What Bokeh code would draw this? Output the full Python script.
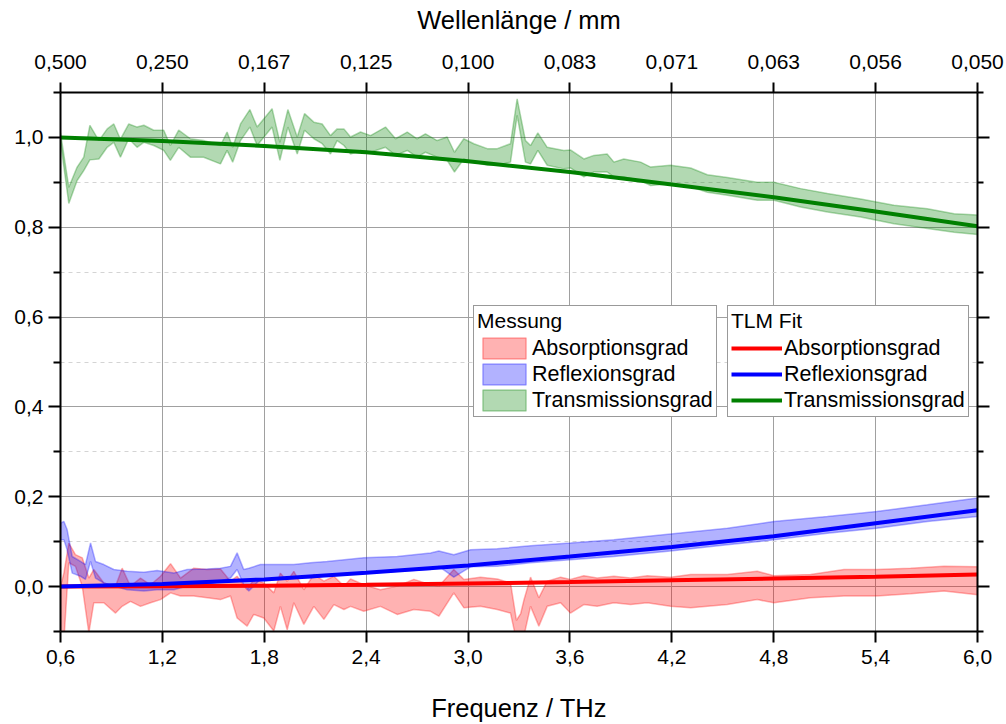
from bokeh.plotting import figure
from bokeh.models import (LinearAxis, FixedTicker, Legend, LegendItem, Range1d,
                          CustomJSTickFormatter)
from bokeh.embed import file_html
from bokeh.resources import INLINE

# ---------------- data ----------------
x_ticks = [0.6, 1.2, 1.8, 2.4, 3.0, 3.6, 4.2, 4.8, 5.4, 6.0]
x_labels = ["0,6", "1,2", "1,8", "2,4", "3,0", "3,6", "4,2", "4,8", "5,4", "6,0"]
top_labels = ["0,500", "0,250", "0,167", "0,125", "0,100", "0,083", "0,071", "0,063", "0,056", "0,050"]
y_ticks = [0.0, 0.2, 0.4, 0.6, 0.8, 1.0]
y_labels = ["0,0", "0,2", "0,4", "0,6", "0,8", "1,0"]
y_minor = [-0.1, 0.1, 0.3, 0.5, 0.7, 0.9, 1.1]

# Transmission (measurement band)
f_T = [0.600, 0.649, 0.698, 0.737, 0.773, 0.826, 0.875, 0.914, 0.953, 1.002, 1.051, 1.091, 1.149,
       1.208, 1.247, 1.296, 1.365, 1.443, 1.542, 1.581, 1.614, 1.660, 1.715, 1.758, 1.846, 1.892,
       1.939, 1.994, 2.037, 2.092, 2.141, 2.190, 2.229, 2.269, 2.308, 2.367, 2.426, 2.514, 2.573,
       2.642, 2.700, 2.749, 2.818, 2.877, 2.920, 2.975, 3.034, 3.113, 3.172, 3.250, 3.289, 3.338,
       3.368, 3.411, 3.466, 3.564, 3.603, 3.682, 3.741, 3.819, 3.859, 3.917, 4.016, 4.075, 4.192,
       4.311, 4.409, 4.527, 4.703, 4.801, 4.958, 5.116, 5.312, 5.508, 5.705, 5.862, 6.000]
T_hi = [1.010, 0.889, 0.934, 0.956, 1.027, 0.993, 1.019, 1.030, 0.996, 1.030, 1.023, 1.027, 1.016,
        1.016, 0.982, 1.016, 0.997, 0.993, 0.982, 1.012, 0.978, 1.030, 1.062, 1.023, 1.064, 0.989,
        1.062, 1.001, 1.053, 1.034, 1.030, 1.004, 1.019, 1.019, 1.001, 1.012, 1.004, 1.023, 0.997,
        1.012, 0.997, 1.008, 0.993, 1.001, 0.967, 0.997, 0.986, 0.975, 0.975, 0.986, 1.086, 0.993,
        0.982, 1.010, 0.978, 0.971, 0.972, 0.952, 0.960, 0.963, 0.945, 0.952, 0.945, 0.934, 0.938,
        0.932, 0.917, 0.911, 0.900, 0.900, 0.886, 0.875, 0.863, 0.849, 0.841, 0.830, 0.827]
T_lo = [0.990, 0.853, 0.904, 0.926, 0.950, 0.952, 0.978, 0.989, 0.956, 0.997, 0.978, 0.989, 0.982,
        0.971, 0.949, 0.978, 0.956, 0.956, 0.941, 0.971, 0.945, 0.993, 1.023, 0.982, 1.023, 0.949,
        1.023, 0.963, 1.016, 0.997, 0.986, 0.963, 0.993, 0.982, 0.963, 0.971, 0.967, 0.978, 0.960,
        0.971, 0.956, 0.967, 0.956, 0.949, 0.923, 0.952, 0.945, 0.938, 0.938, 0.945, 1.049, 0.945,
        0.941, 0.971, 0.938, 0.930, 0.932, 0.912, 0.923, 0.923, 0.912, 0.912, 0.904, 0.893, 0.897,
        0.890, 0.878, 0.871, 0.860, 0.860, 0.845, 0.834, 0.823, 0.808, 0.797, 0.789, 0.784]

# Reflexion (measurement band)
f_R = [0.600, 0.620, 0.639, 0.669, 0.718, 0.747, 0.777, 0.806, 0.855, 0.914, 0.993, 1.091, 1.169,
       1.267, 1.346, 1.464, 1.542, 1.601, 1.640, 1.679, 1.709, 1.777, 1.876, 1.974, 2.072, 2.170,
       2.386, 2.583, 2.779, 2.828, 2.916, 3.015, 3.172, 3.368, 3.603, 3.859, 4.192, 4.527, 4.801,
       5.116, 5.406, 5.705, 6.000]
R_hi = [0.141, 0.145, 0.127, 0.067, 0.056, 0.049, 0.097, 0.056, 0.049, 0.038, 0.034, 0.032, 0.036,
        0.030, 0.038, 0.039, 0.041, 0.045, 0.075, 0.038, 0.041, 0.049, 0.049, 0.049, 0.053, 0.056,
        0.064, 0.067, 0.075, 0.079, 0.071, 0.082, 0.084, 0.091, 0.097, 0.104, 0.117, 0.130, 0.145,
        0.156, 0.167, 0.182, 0.197]
R_lo = [0.104, 0.104, 0.082, 0.030, 0.023, 0.016, 0.056, 0.019, 0.008, 0.001, -0.007, -0.010, -0.007,
        -0.007, 0.001, 0.004, 0.012, 0.019, 0.038, 0.004, -0.010, 0.016, 0.016, 0.019, 0.019, 0.024,
        0.030, 0.034, 0.038, 0.045, 0.021, 0.044, 0.045, 0.053, 0.060, 0.067, 0.079, 0.093, 0.104,
        0.119, 0.130, 0.145, 0.156]

# Absorption (measurement band)
f_A = [0.600, 0.620, 0.649, 0.688, 0.728, 0.767, 0.796, 0.855, 0.924, 0.963, 1.012, 1.071, 1.130,
       1.189, 1.248, 1.307, 1.385, 1.464, 1.542, 1.601, 1.640, 1.699, 1.738, 1.797, 1.856, 1.895,
       1.935, 1.974, 2.033, 2.092, 2.151, 2.210, 2.269, 2.308, 2.386, 2.484, 2.583, 2.681, 2.779,
       2.828, 2.916, 2.975, 3.073, 3.172, 3.250, 3.285, 3.310, 3.329, 3.368, 3.417, 3.466, 3.545,
       3.603, 3.682, 3.760, 3.859, 3.957, 4.055, 4.192, 4.311, 4.527, 4.703, 4.801, 5.017, 5.214,
       5.406, 5.606, 5.803, 6.000]
A_hi = [0.000, 0.030, 0.097, 0.071, 0.064, 0.019, 0.038, 0.008, 0.001, 0.041, 0.001, 0.019, 0.004,
        0.023, 0.051, 0.019, 0.041, 0.038, 0.039, 0.012, 0.023, -0.007, 0.016, 0.008, -0.014, 0.030,
        0.012, 0.034, -0.007, 0.027, 0.012, 0.023, 0.001, 0.017, 0.004, -0.007, 0.001, 0.016, 0.004,
        0.001, 0.038, 0.016, 0.021, 0.017, 0.008, -0.075, -0.060, -0.030, 0.021, -0.025, 0.012, 0.021,
        0.016, 0.024, 0.019, 0.023, 0.019, 0.024, 0.021, 0.027, 0.027, 0.034, 0.024, 0.027, 0.038,
        0.038, 0.041, 0.045, 0.044]
A_lo = [-0.120, -0.120, 0.053, 0.045, 0.001, -0.103, -0.036, -0.036, -0.059, -0.044, -0.033, -0.044,
        -0.036, -0.029, -0.014, -0.021, -0.021, -0.025, -0.029, -0.021, -0.070, -0.088, -0.062, -0.070,
        -0.099, -0.044, -0.096, -0.036, -0.084, -0.044, -0.073, -0.040, -0.051, -0.044, -0.055, -0.044,
        -0.062, -0.051, -0.055, -0.066, -0.014, -0.047, -0.044, -0.051, -0.059, -0.120, -0.120, -0.110,
        -0.044, -0.088, -0.044, -0.036, -0.059, -0.040, -0.044, -0.036, -0.040, -0.036, -0.044, -0.047,
        -0.040, -0.029, -0.036, -0.025, -0.021, -0.021, -0.016, -0.010, -0.018]

# TLM fit curves
f_fit = [0.6, 1.2, 1.8, 2.4, 3.0, 3.6, 4.2, 4.8, 5.4, 6.0]
T_fit = [1.000, 0.992, 0.981, 0.967, 0.947, 0.923, 0.895, 0.867, 0.835, 0.802]
R_fit = [0.000, 0.006, 0.016, 0.031, 0.047, 0.067, 0.088, 0.112, 0.141, 0.170]
A_fit = [0.000, 0.001, 0.002, 0.004, 0.007, 0.010, 0.014, 0.018, 0.022, 0.027]

RED, BLUE, GREEN = "#ff0000", "#0000ff", "#008000"
FONT = "Liberation Sans"

p = figure(width=1006, height=724, output_backend="svg", toolbar_location=None,
           x_range=Range1d(0.6, 6.0), y_range=Range1d(-0.1, 1.1),
           min_border_left=60, min_border_right=29, min_border_top=92, min_border_bottom=92)
p.outline_line_color = None
p.background_fill_color = "white"
p.border_fill_color = "white"

xa = p.xaxis[0]
xa.ticker = FixedTicker(ticks=x_ticks)
xa.major_label_overrides = dict(zip(x_ticks, x_labels))
xa.axis_label = "Frequenz / THz"
ya = p.yaxis[0]
ya.ticker = FixedTicker(ticks=y_ticks, minor_ticks=y_minor)
ya.major_label_overrides = dict(zip(y_ticks, y_labels))

top = LinearAxis(ticker=FixedTicker(ticks=x_ticks),
                 major_label_overrides=dict(zip(x_ticks, top_labels)),
                 axis_label="Wellenlänge / mm")
right = LinearAxis(ticker=FixedTicker(ticks=y_ticks, minor_ticks=y_minor),
                   formatter=CustomJSTickFormatter(code="return ''"))
p.add_layout(top, "above")
p.add_layout(right, "right")

for ax in [xa, ya, top, right]:
    ax.axis_line_width = 2
    ax.axis_line_color = "black"
    ax.major_tick_line_width = 2
    ax.major_tick_line_color = "black"
    ax.minor_tick_line_width = 2
    ax.minor_tick_line_color = "black"
    ax.major_tick_in = 0
    ax.minor_tick_in = 0
    ax.major_label_text_font = FONT
    ax.major_label_text_font_size = "21px"
    ax.major_label_text_color = "black"
    ax.axis_label_text_font = FONT
    ax.axis_label_text_font_size = "25.5px"
    ax.axis_label_text_font_style = "normal"
    ax.axis_label_text_color = "black"

xa.major_tick_out = 11
xa.major_label_standoff = 7
xa.axis_label_standoff = 27
top.major_tick_out = 10
top.major_label_standoff = 14
top.axis_label_standoff = 18
ya.major_tick_out = 12
ya.minor_tick_out = 7
ya.major_label_standoff = 5
right.major_tick_out = 12
right.minor_tick_out = 6
right.major_label_standoff = 0

p.xgrid.grid_line_color = "#a0a0a0"
p.xgrid.grid_line_width = 1
p.ygrid.grid_line_color = "#a0a0a0"
p.ygrid.grid_line_width = 1
p.ygrid.minor_grid_line_color = "#d4d4d4"
p.ygrid.minor_grid_line_dash = "4 4"
p.ygrid.minor_grid_line_width = 1


def band(f, lo, hi, color):
    xs = list(f) + list(f)[::-1]
    ys = list(hi) + list(lo)[::-1]
    return p.patch(xs, ys, fill_color=color, fill_alpha=0.3,
                   line_color=color, line_alpha=0.3, line_width=1.5)


rA = band(f_A, A_lo, A_hi, RED)
rR = band(f_R, R_lo, R_hi, BLUE)
rT = band(f_T, T_lo, T_hi, GREEN)

lA = p.line(f_fit, A_fit, line_color=RED, line_width=4)
lR = p.line(f_fit, R_fit, line_color=BLUE, line_width=4)
lT = p.line(f_fit, T_fit, line_color=GREEN, line_width=4)


def make_legend(title, items, loc, gw, standoff):
    return Legend(items=items, title=title, location=loc, orientation="vertical",
                  glyph_width=gw, glyph_height=26, label_height=26, spacing=0,
                  label_standoff=standoff, padding=3, margin=0,
                  border_line_color="#333333", border_line_width=1,
                  background_fill_color="white", background_fill_alpha=1.0,
                  label_text_font=FONT, label_text_font_size="21.5px",
                  label_text_color="black",
                  title_text_font=FONT, title_text_font_size="21px",
                  title_text_font_style="normal", title_text_color="black",
                  title_standoff=2)


leg1 = make_legend("Messung",
                   [LegendItem(label="Absorptionsgrad", renderers=[rA]),
                    LegendItem(label="Reflexionsgrad", renderers=[rR]),
                    LegendItem(label="Transmissionsgrad", renderers=[rT])],
                   (413, 214), 54, 1)
leg2 = make_legend("TLM Fit",
                   [LegendItem(label="Absorptionsgrad", renderers=[lA]),
                    LegendItem(label="Reflexionsgrad", renderers=[lR]),
                    LegendItem(label="Transmissionsgrad", renderers=[lT])],
                   (667, 214), 51, 2)
p.add_layout(leg1)
p.add_layout(leg2)

open("out.html", "w").write(file_html(p, INLINE))
